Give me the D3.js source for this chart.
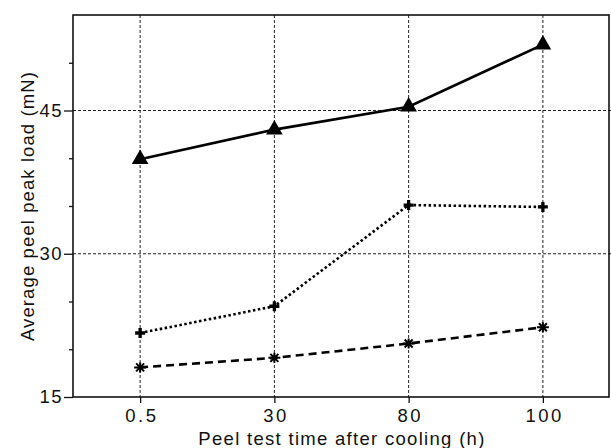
<!DOCTYPE html>
<html>
<head>
<meta charset="utf-8">
<script src="https://cdn.jsdelivr.net/npm/d3@7"></script>
<style>
  body { margin: 0; background: #fff; }
  svg { display: block; }
  text { font-family: "Liberation Sans", Arial, sans-serif; fill: #111; }
</style>
</head>
<body>
<svg width="611" height="448"></svg>
<script>
const width = 611;
const height = 448;

// values
var times = ["0.5", "30", "80", "100"];
var triangleSeries = [39.9, 43.0, 45.4, 51.9];
var plusSeries = [21.7, 24.5, 35.1, 34.9];
var starSeries = [18.1, 19.1, 20.6, 22.3];
var majorTicks = [15, 30, 45];
var minorTicks = [20, 25, 35, 40, 50];

var margin = {left: 73, right: 1, top: 15, bottom: 51};

var svg = d3.select("svg");

var x = d3.scalePoint()
    .domain(times)
    .range([margin.left, width - margin.right])
    .padding(0.5);

var y = d3.scaleLinear()
    .domain([15, 55])
    .range([height - margin.bottom, margin.top]);

// dotted grid
var grid = svg.append("g")
    .attr("stroke", "#222")
    .attr("stroke-width", 1)
    .attr("stroke-dasharray", "3,2");

grid.selectAll(".vg")
    .data(times)
    .enter().append("line")
    .attr("x1", function (d) { return x(d); })
    .attr("x2", function (d) { return x(d); })
    .attr("y1", y(55))
    .attr("y2", y(15));

grid.selectAll(".hg")
    .data([30, 45])
    .enter().append("line")
    .attr("x1", margin.left)
    .attr("x2", width)
    .attr("y1", function (d) { return y(d); })
    .attr("y2", function (d) { return y(d); });

// frame
svg.append("rect")
    .attr("x", margin.left)
    .attr("y", margin.top)
    .attr("width", width - margin.right - margin.left - 1)
    .attr("height", y(15) - margin.top)
    .attr("fill", "none")
    .attr("stroke", "#111")
    .attr("stroke-width", 1.6);

// y axis
var yAxis = svg.append("g")
    .attr("transform", "translate(" + margin.left + ",0)")
    .call(d3.axisLeft(y).tickValues(majorTicks).tickSize(9).tickPadding(1));
yAxis.select(".domain").remove();
yAxis.selectAll("text")
    .style("font-size", "18.5px")
    .style("letter-spacing", "1.5px")
    .attr("fill", "#111");
yAxis.selectAll("line").attr("stroke", "#111").attr("stroke-width", 1.3);

var yMinor = svg.append("g")
    .attr("transform", "translate(" + margin.left + ",0)")
    .call(d3.axisLeft(y).tickValues(minorTicks).tickSize(4).tickFormat(""));
yMinor.select(".domain").remove();
yMinor.selectAll("line").attr("stroke", "#111").attr("stroke-width", 1.3);

// x axis
var xAxis = svg.append("g")
    .attr("transform", "translate(0," + y(15) + ")")
    .call(d3.axisBottom(x).tickSize(6).tickPadding(6));
xAxis.select(".domain").remove();
xAxis.selectAll("text")
    .style("font-size", "18.5px")
    .style("letter-spacing", "2.5px")
    .attr("dx", "1.2px")
    .attr("fill", "#111");
xAxis.selectAll("line").attr("stroke", "#111").attr("stroke-width", 1.3);

// axis titles
svg.append("text")
    .attr("x", (margin.left + width) / 2)
    .attr("y", 445)
    .attr("text-anchor", "middle")
    .style("font-size", "18.5px")
    .style("letter-spacing", "1.3px")
    .text("Peel test time after cooling (h)");

svg.append("text")
    .attr("transform", "translate(34," + (y(15) + y(55)) / 2 + ") rotate(-90)")
    .attr("text-anchor", "middle")
    .style("font-size", "18.5px")
    .style("letter-spacing", "1.1px")
    .text("Average peel peak load (mN)");

// series
var line = d3.line()
    .x(function (d, i) { return x(times[i]); })
    .y(function (d) { return y(d); });

svg.append("path")
    .datum(triangleSeries)
    .attr("d", line)
    .attr("fill", "none")
    .attr("stroke", "#000")
    .attr("stroke-width", 2.6);

svg.append("path")
    .datum(plusSeries)
    .attr("d", line)
    .attr("fill", "none")
    .attr("stroke", "#000")
    .attr("stroke-width", 2.6)
    .attr("stroke-dasharray", "2.5,2.5");

svg.append("path")
    .datum(starSeries)
    .attr("d", line)
    .attr("fill", "none")
    .attr("stroke", "#000")
    .attr("stroke-width", 2.6)
    .attr("stroke-dasharray", "8,5");

// markers
svg.selectAll(".tri")
    .data(triangleSeries)
    .enter().append("path")
    .attr("transform", function (d, i) { return "translate(" + x(times[i]) + "," + y(d) + ")"; })
    .attr("d", d3.symbol().type(d3.symbolTriangle).size(120))
    .attr("fill", "#000");

svg.selectAll(".plus")
    .data(plusSeries)
    .enter().append("path")
    .attr("transform", function (d, i) { return "translate(" + x(times[i]) + "," + y(d) + ")"; })
    .attr("d", d3.symbol().type(d3.symbolCross).size(55))
    .attr("fill", "#000");

svg.selectAll(".star")
    .data(starSeries)
    .enter().append("path")
    .attr("transform", function (d, i) { return "translate(" + x(times[i]) + "," + y(d) + ")"; })
    .attr("d", "M-6,0H6M-4,-4L4,4M-4,4L4,-4M0,-5V5")
    .attr("fill", "none")
    .attr("stroke", "#000")
    .attr("stroke-width", 2);
</script>
</body>
</html>
